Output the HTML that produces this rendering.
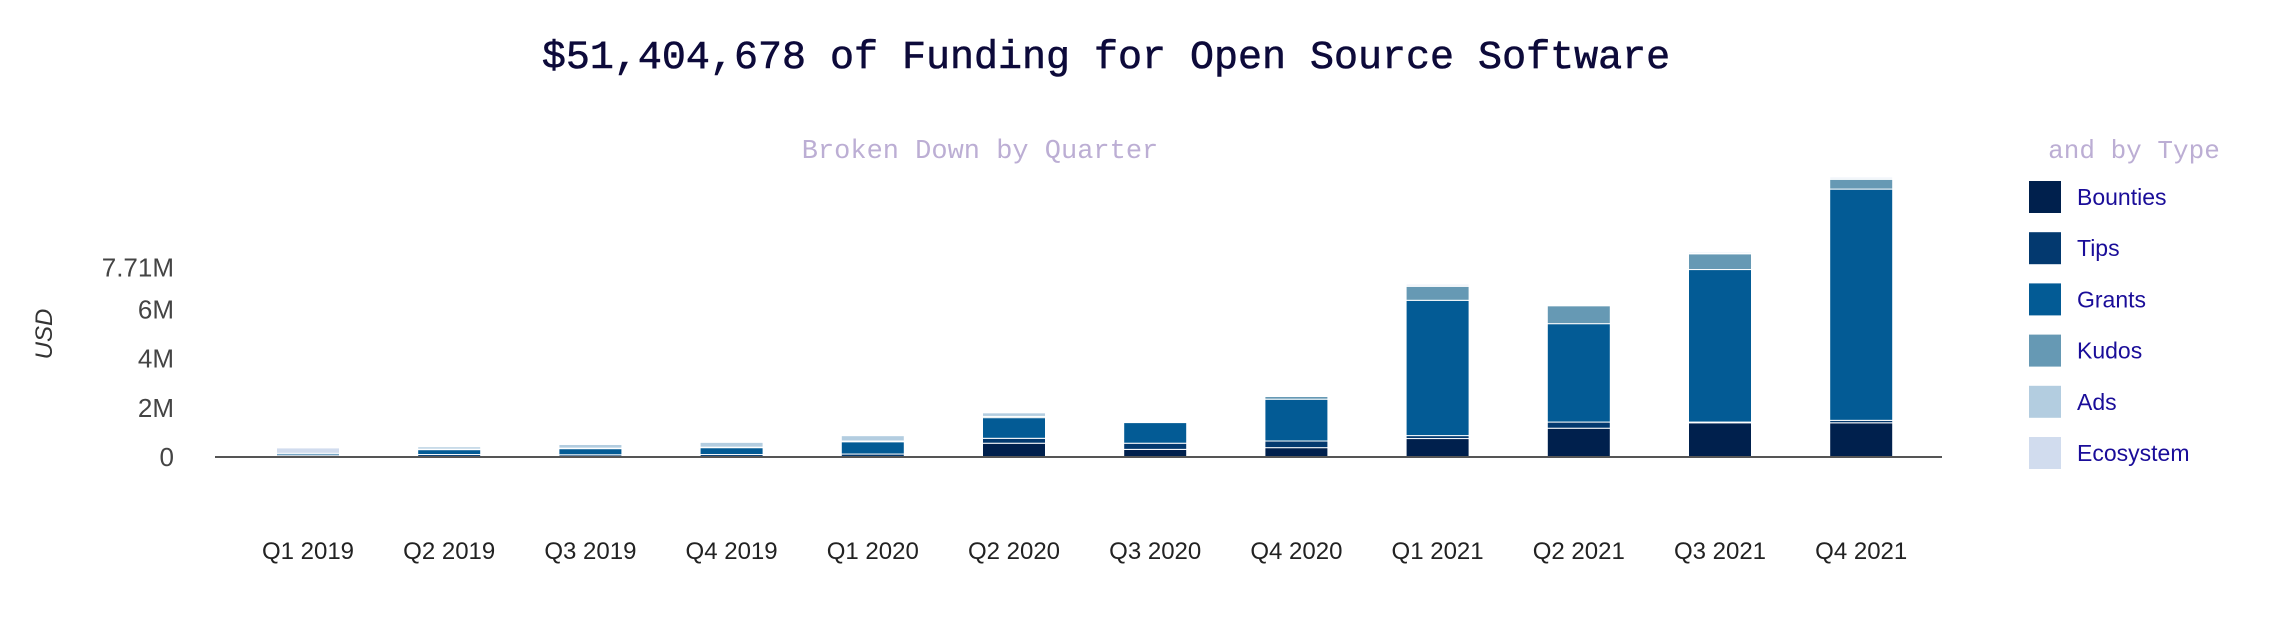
<!DOCTYPE html>
<html><head><meta charset="utf-8"><style>
body{margin:0;background:#fff;}
svg{display:block;}
</style></head><body>
<svg id="chart" width="2276" height="617" xmlns="http://www.w3.org/2000/svg">
<text x="1106" y="68" text-anchor="middle" font-family="Liberation Mono, monospace" font-size="40" fill="#0d0a3a" stroke="#0d0a3a" stroke-width="0.6">$51,404,678 of Funding for Open Source Software</text>
<text x="980" y="158" text-anchor="middle" font-family="Liberation Mono, monospace" font-size="27" fill="#bcaed4">Broken Down by Quarter</text>
<text x="2134" y="158" text-anchor="middle" font-family="Liberation Mono, monospace" font-size="26" fill="#bcaed4">and by Type</text>
<text transform="translate(52,334) rotate(-90)" text-anchor="middle" font-family="Liberation Sans, sans-serif" font-style="italic" font-size="24" fill="#333">USD</text>
<g id="bars"></g>
<g id="yticks"></g>
<g id="xticks"></g>
<line x1="215" y1="457" x2="1942" y2="457" stroke="#555" stroke-width="2"/>
<g id="legend"></g>
</svg>
<script>
const categories = ["Q1 2019","Q2 2019","Q3 2019","Q4 2019","Q1 2020","Q2 2020","Q3 2020","Q4 2020","Q1 2021","Q2 2021","Q3 2021","Q4 2021"];
const seriesNames = ["Bounties","Tips","Grants","Kudos","Ads","Ecosystem"];
const bounties = [0.03,0.02,0.02,0.02,0.02,0.56,0.31,0.38,0.75,1.17,1.39,1.39];
const tips = [0.05,0.08,0.07,0.08,0.10,0.20,0.25,0.27,0.12,0.25,0.03,0.10];
const grants = [0.07,0.20,0.25,0.28,0.50,0.84,0.84,1.70,5.50,4.00,6.20,9.40];
const kudos = [0.00,0.02,0.02,0.02,0.03,0.05,0.03,0.11,0.57,0.73,0.64,0.40];
const ads = [0.00,0.10,0.15,0.20,0.22,0.15,0.01,0.02,0.02,0.02,0.03,0.02];
const ecosystem = [0.22,0.04,0.02,0.03,0.03,0.02,0.02,0.04,0.06,0.04,0.05,0.06];
const tickValues = [0,2,4,6,7.71];
const tickLabels = ["0","2M","4M","6M","7.71M"];
const colors = ["#00204d","#03396f","#035b95","#6699b4","#b3cde0","#d1dcee"];

const series = [bounties,tips,grants,kudos,ads,ecosystem];
const NS="http://www.w3.org/2000/svg";
const y0=457, pxPerM=24.6;
function yScale(v){return y0 - v*pxPerM;}
function xCenter(i){return 308 + i*141.2;}
const barW=63;
const gb=document.getElementById('bars');
categories.forEach((c,i)=>{
  let acc=0;
  series.forEach((s,k)=>{
    const v=s[i]; if(v<=0){return;}
    const yt=yScale(acc+v), yb=yScale(acc);
    const r=document.createElementNS(NS,'rect');
    
    
    r.setAttribute('x',xCenter(i)-barW/2);
    r.setAttribute('y',yt);
    r.setAttribute('width',barW);
    r.setAttribute('height',Math.max(yb-yt,0.5));
    r.setAttribute('fill',colors[k]);
    r.setAttribute('stroke','#fff');
    r.setAttribute('stroke-width','1');
    gb.appendChild(r);
    acc+=v;
  });
  const t=document.createElementNS(NS,'text');
  
  
  t.setAttribute('x',xCenter(i));
  t.setAttribute('y',559);
  t.setAttribute('text-anchor','middle');
  t.setAttribute('font-family','Liberation Sans, sans-serif');
  t.setAttribute('font-size','24');
  t.setAttribute('fill','#222');
  t.textContent=c;
  document.getElementById('xticks').appendChild(t);
});
tickValues.forEach((v,i)=>{
  const t=document.createElementNS(NS,'text');
  
  
  t.setAttribute('x',174);
  t.setAttribute('y',yScale(v)+9);
  t.setAttribute('text-anchor','end');
  t.setAttribute('font-family','Liberation Sans, sans-serif');
  t.setAttribute('font-size','26');
  t.setAttribute('fill','#444');
  t.textContent=tickLabels[i];
  document.getElementById('yticks').appendChild(t);
});
const gl=document.getElementById('legend');
seriesNames.forEach((n,k)=>{
  const cy=197+k*51.2;
  const r=document.createElementNS(NS,'rect');
  
  
  r.setAttribute('x',2029);r.setAttribute('y',cy-16);
  r.setAttribute('width',32);r.setAttribute('height',32);
  r.setAttribute('fill',colors[k]);
  gl.appendChild(r);
  const t=document.createElementNS(NS,'text');
  
  
  t.setAttribute('x',2077);t.setAttribute('y',cy+8);
  t.setAttribute('font-family','Liberation Sans, sans-serif');
  t.setAttribute('font-size','23');
  t.setAttribute('fill','#1a0d99');
  t.textContent=n;
  gl.appendChild(t);
});
</script>
</body></html>
